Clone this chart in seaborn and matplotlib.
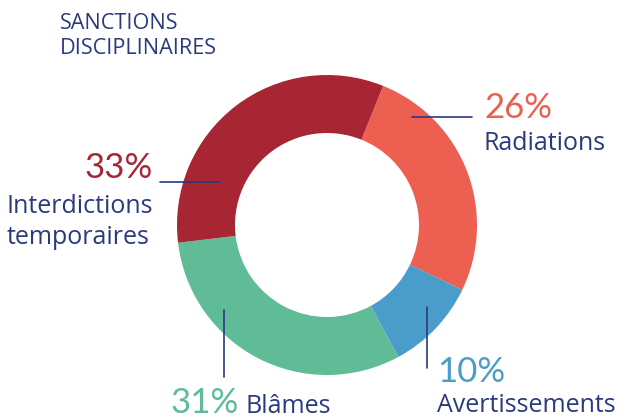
import matplotlib
matplotlib.use("Agg")
import matplotlib.pyplot as plt
import seaborn as sns

# data
categories = ["Radiations", "Avertissements", "Blâmes", "Interdictions\ntemporaires"]
values = [26, 10, 31, 33]
colors = ["#EC5F51", "#4A9DCA", "#5FBC96", "#A82634"]
navy = "#2B3A7E"

sns.set_theme(style="white")
plt.rcParams["font.family"] = ["Lato", "DejaVu Sans"]
lab_font = ["Open Sans", "DejaVu Sans"]

W, H = 617, 419
fig = plt.figure(figsize=(W / 100, H / 100), dpi=100)
ax = fig.add_axes([0, 0, 1, 1])

cx, cy = 327, H - 225
ax.pie(values, colors=colors, startangle=68, counterclock=False,
       center=(cx, cy), radius=150,
       wedgeprops=dict(width=58, linewidth=0))
ax.set_xlim(0, W)
ax.set_ylim(0, H)
ax.set_aspect("equal")
ax.axis("off")

def y(p):
    return H - p

# title
ax.text(60, y(36), "SANCTIONS\nDISCIPLINAIRES", color=navy, fontsize=15.6,
        ha="left", va="center", linespacing=1.3, family=lab_font)

pct = [f"{v}%" for v in values]
big, small = 25, 18

# Radiations
ax.plot([412, 472], [y(117), y(117)], color=navy, lw=1.2)
ax.text(484, y(108), pct[0], color=colors[0], fontsize=big, ha="left", va="center")
ax.text(484, y(144), categories[0], color=navy, fontsize=small, ha="left", va="center",
        family=lab_font)

# Avertissements
ax.plot([427, 427], [y(307), y(368)], color=navy, lw=1.2)
ax.text(437, y(372), pct[1], color=colors[1], fontsize=big, ha="left", va="center")
ax.text(437, y(405), categories[1], color=navy, fontsize=small, ha="left", va="center",
        family=lab_font)

# Blâmes
ax.plot([224, 224], [y(310), y(377)], color=navy, lw=1.2)
ax.text(170, y(403), pct[2], color=colors[2], fontsize=big, ha="left", va="center")
ax.text(246, y(406), categories[2], color=navy, fontsize=small, ha="left", va="center",
        family=lab_font)

# Interdictions temporaires
ax.plot([160, 220], [y(182), y(182)], color=navy, lw=1.2)
ax.text(153, y(168), pct[3], color=colors[3], fontsize=big, ha="right", va="center")
ax.text(153, y(222), categories[3], color=navy, fontsize=small, ha="right", va="center",
        multialignment="left", linespacing=1.35, family=lab_font)

fig.savefig("out.png", dpi=100)
